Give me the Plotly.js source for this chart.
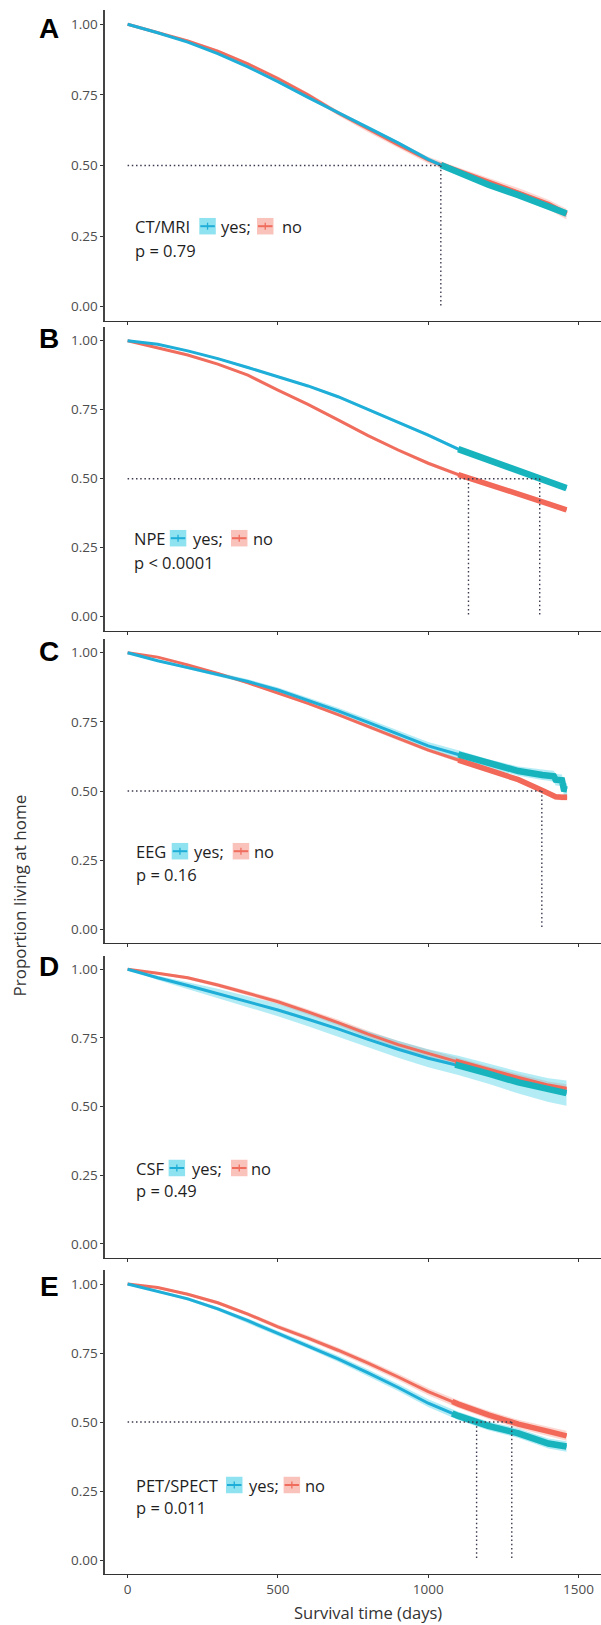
<!DOCTYPE html>
<html><head><meta charset="utf-8">
<script src="https://cdn.plot.ly/plotly-3.0.1.min.js"></script>
<style>html,body{margin:0;padding:0;background:#fff}#chart{width:601px;height:1625px}</style>
</head><body><div id="chart"></div>
<script>
// ---------------- data ----------------
const days  = [0,100,200,300,400,500,600,700,800,900,1000,1100,1200,1300,1400,1460];
const daysC = [0,100,200,300,400,500,600,700,800,900,1000,1100,1200,1300,1380,1400,1418,1424,1445,1451,1462];

const panelLetters = ['A','B','C','D','E'];
const testNames    = ['CT/MRI','NPE','EEG','CSF','PET/SPECT'];
const groupLabels  = ['yes;','no'];
const pValues      = ['p = 0.79','p < 0.0001','p = 0.16','p = 0.49','p = 0.011'];
const medianDays   = [[1042],[1134,1371],[1378],[],[1161,1278]];
const xTickVals    = [0,500,1000,1500];
const xTickText    = ['0','500','1000','1500'];
const yTickVals    = [0,0.25,0.5,0.75,1];
const yTickText    = ['0.00','0.25','0.50','0.75','1.00'];
const xTitle = 'Survival time (days)';
const yTitle = 'Proportion living at home';

// survival estimates
const aYes = [1,.970,.937,.896,.849,.797,.741,.687,.635,.580,.522,.474,.432,.395,.354,.330];
const aNo  = [1,.971,.941,.905,.860,.808,.750,.686,.628,.573,.519,.480,.442,.405,.362,.328];
const bYes = [1,.987,.963,.935,.903,.870,.836,.797,.750,.703,.658,.607,.568,.530,.490,.466];
const bNo  = [1,.975,.948,.915,.875,.821,.769,.713,.656,.604,.556,.515,.481,.445,.409,.387];
const cYes = [1,.971,.946,.922,.896,.865,.828,.790,.748,.706,.663,.632,.599,.572,.558,.556,.553,.541,.539,.508,.506];
const cNo  = [1,.984,.956,.925,.891,.855,.817,.776,.733,.690,.648,.612,.576,.541,.502,.492,.482,.479,.477,.477,.477];
const dYes = [1,.969,.941,.912,.882,.852,.818,.783,.745,.709,.676,.650,.620,.588,.560,.549];
const dNo  = [1,.986,.969,.943,.913,.882,.845,.806,.764,.726,.694,.662,.631,.602,.574,.563];
const eYes = [1,.974,.946,.910,.867,.821,.776,.729,.678,.625,.568,.522,.486,.459,.422,.411];
const eNo  = [1,.987,.963,.932,.891,.845,.804,.760,.713,.663,.610,.565,.526,.492,.466,.450];

// confidence band half-widths
const aYesCI = [0,.002,.003,.003,.004,.004,.005,.005,.006,.006,.007,.008,.009,.010,.011,.012];
const aNoCI  = [0,.003,.004,.005,.006,.007,.008,.009,.010,.011,.012,.013,.014,.015,.017,.019];
const bYesCI = [0,.002,.003,.003,.004,.004,.004,.005,.005,.005,.006,.006,.007,.007,.008,.009];
const bNoCI  = [0,.002,.003,.003,.004,.004,.005,.005,.005,.006,.006,.007,.007,.008,.008,.009];
const cYesCI = [0,.004,.006,.007,.008,.009,.010,.011,.012,.013,.014,.015,.016,.017,.018,.019,.020,.021,.021,.022,.022];
const cNoCI  = [0,.002,.003,.004,.004,.005,.005,.006,.006,.007,.007,.008,.008,.009,.009,.010,.010,.010,.011,.011,.011];
const dYesCI = [0,.008,.013,.017,.020,.023,.025,.027,.029,.031,.033,.035,.037,.040,.043,.046];
const dNoCI  = [0,.004,.006,.007,.008,.009,.010,.011,.012,.013,.014,.015,.016,.017,.018,.019];
const eYesCI = [0,.004,.006,.007,.008,.009,.010,.011,.012,.013,.014,.015,.016,.017,.018,.019];
const eNoCI  = [0,.004,.005,.006,.007,.008,.009,.010,.011,.012,.013,.014,.015,.016,.017,.018];

// heavy-censoring region start (days) per panel
const censorFrom = [1042,1100,1100,1090,1080];

// ---------------- layout config (pixels) ----------------
const W = 601, H = 1625;
const plotLeft = 104.6, x0px = 127.6, pxPerDay = 0.3006;
const panels = [
  {y1:24.3,  y0:306.7,  letterY:28,   row1:226.7,  row2:251.0,  xs:[135,199.3,220.7,257,281.7]},
  {y1:340.7, y0:616.7,  letterY:338.5,row1:538.7,  row2:562.0,  xs:[134,169.8,192.8,231,253]},
  {y1:652.7, y0:929.3,  letterY:651,  row1:851.7,  row2:874.0,  xs:[136,171.7,194,232.7,254]},
  {y1:969.3, y0:1244,   letterY:966,  row1:1168.5, row2:1190.5, xs:[136,168.6,191.6,231,251]},
  {y1:1284,  y0:1560,   letterY:1286, row1:1485.5, row2:1507.5, xs:[136,226,249,283.6,304.7]}
];
const seriesByPanel = [
  {t:days,  yes:aYes, no:aNo, yesCI:aYesCI, noCI:aNoCI},
  {t:days,  yes:bYes, no:bNo, yesCI:bYesCI, noCI:bNoCI},
  {t:daysC, yes:cYes, no:cNo, yesCI:cYesCI, noCI:cNoCI},
  {t:days,  yes:dYes, no:dNo, yesCI:dYesCI, noCI:dNoCI},
  {t:days,  yes:eYes, no:eNo, yesCI:eYesCI, noCI:eNoCI}
];
const COL = {
  yesLine:'#1eaed8', yesThick:'#18b4be', yesBand:'rgba(40,200,225,0.35)',
  noLine:'#f06d5e',  noThick:'#f2695a',  noBand:'rgba(245,125,110,0.30)',
  yesKeyFill:'#8fe2f0', noKeyFill:'#f9c2bb'
};
const TXT = 'Open Sans, Liberation Sans, sans-serif';

const xRange = [-(x0px-plotLeft)/pxPerDay, -(x0px-plotLeft)/pxPerDay + (W-plotLeft)/pxPerDay];
const px2x = p => p/W, px2y = p => 1 - p/H;

function tailOf(t, s, from){
  const xs=[], ys=[];
  for (let k=0;k<t.length;k++){
    if (t[k] >= from){
      if (xs.length===0 && k>0 && t[k]>from){
        const f=(from-t[k-1])/(t[k]-t[k-1]);
        xs.push(from); ys.push(s[k-1]+f*(s[k]-s[k-1]));
      }
      xs.push(t[k]); ys.push(s[k]);
    }
  }
  return {xs, ys};
}

const traces = [], shapes = [], annotations = [];
const layout = {
  width:W, height:H, margin:{l:0,r:0,t:0,b:0},
  paper_bgcolor:'#fff', plot_bgcolor:'#fff', showlegend:false
};

panels.forEach((p, i) => {
  const sfx = i===0 ? '' : String(i+1);
  const xa = 'x'+sfx, ya = 'y'+sfx;
  const span = p.y0 - p.y1;
  const topPx = p.y0 - 1.05*span, botPx = p.y0 + 0.05*span;
  layout['xaxis'+sfx] = {
    domain:[plotLeft/W, 1], range:xRange, anchor:ya,
    showline:true, linecolor:'#333', linewidth:1.2, mirror:false,
    ticks:'outside', ticklen:3, tickwidth:1, tickcolor:'#333',
    tickvals:xTickVals, ticktext:xTickText, showticklabels:(i===4),
    tickfont:{family:TXT, size:13.5, color:'#4d4d4d'},
    showgrid:false, zeroline:false, fixedrange:true
  };
  layout['yaxis'+sfx] = {
    domain:[1-botPx/H, 1-topPx/H], range:[-0.05,1.05], anchor:xa,
    showline:true, linecolor:'#444', linewidth:1.2,
    ticks:'outside', ticklen:3, tickwidth:1, tickcolor:'#333',
    tickvals:yTickVals, ticktext:yTickText,
    tickfont:{family:TXT, size:13.5, color:'#4d4d4d'},
    showgrid:false, zeroline:false, fixedrange:true
  };

  const S = seriesByPanel[i];
  const groups = [
    {v:S.no,  ci:S.noCI,  band:COL.noBand,  line:COL.noLine,  thick:COL.noThick,  tw:5.5},
    {v:S.yes, ci:S.yesCI, band:COL.yesBand, line:COL.yesLine, thick:COL.yesThick, tw:6.5}
  ];
  // ribbons
  groups.forEach(g => {
    const hi = g.v.map((v,k)=>v+g.ci[k]);
    const lo = g.v.map((v,k)=>v-g.ci[k]);
    traces.push({
      type:'scatter', mode:'lines', xaxis:xa, yaxis:ya,
      x:S.t.concat(S.t.slice().reverse()),
      y:hi.concat(lo.slice().reverse()),
      fill:'toself', fillcolor:g.band, line:{width:0}, hoverinfo:'skip'
    });
  });
  // lines
  groups.forEach(g => {
    traces.push({type:'scatter', mode:'lines', xaxis:xa, yaxis:ya,
      x:S.t, y:g.v, line:{color:g.line, width:3}, hoverinfo:'skip'});
  });
  // heavy-censoring thick tails
  groups.forEach(g => {
    const tl = tailOf(S.t, g.v, censorFrom[i]);
    traces.push({type:'scatter', mode:'lines', xaxis:xa, yaxis:ya,
      x:tl.xs, y:tl.ys, line:{color:g.thick, width:g.tw}, hoverinfo:'skip'});
  });

  // median lines
  const med = medianDays[i];
  if (med.length){
    const dotLine = {color:'#3b3b4f', width:1.4, dash:'1.5px,2.7px'};
    shapes.push({type:'line', xref:xa, yref:ya, x0:0, x1:Math.max(...med), y0:0.5, y1:0.5, line:dotLine, layer:'above'});
    med.forEach(m => shapes.push({type:'line', xref:xa, yref:ya, x0:m, x1:m, y0:0.5, y1:0, line:dotLine, layer:'above'}));
  }

  // panel letter
  annotations.push({xref:'paper', yref:'paper', x:px2x(49), y:px2y(p.letterY),
    xanchor:'center', yanchor:'middle', showarrow:false, borderpad:0,
    text:'<b>'+panelLetters[i]+'</b>', font:{family:'Liberation Sans, Arial, sans-serif', size:28, color:'#000'}});

  // legend texts
  const lf = {family:TXT, size:16.5, color:'#1e1e1e'};
  const [xLab, xK1, xYes, xK2, xNo] = p.xs;
  const txt = (x, y, t) => annotations.push({xref:'paper', yref:'paper', x:px2x(x), y:px2y(y),
    xanchor:'left', yanchor:'middle', showarrow:false, borderpad:0, text:t, font:lf});
  txt(xLab-1, p.row1, testNames[i]);
  txt(xYes-1, p.row1, groupLabels[0]);
  txt(xNo-1,  p.row1, groupLabels[1]);
  txt(xLab-1, p.row2, pValues[i]);

  // legend keys
  const K = 16.5;
  [[xK1, COL.yesKeyFill, COL.yesLine],[xK2, COL.noKeyFill, COL.noLine]].forEach(([kx, fill, lc]) => {
    const ky0 = p.row1 - K/2 - 0.5, ky1 = p.row1 + K/2 - 0.5, kyc = (ky0+ky1)/2;
    shapes.push({type:'rect', xref:'paper', yref:'paper', x0:px2x(kx), x1:px2x(kx+K), y0:px2y(ky1), y1:px2y(ky0), fillcolor:fill, line:{width:0}});
    shapes.push({type:'line', xref:'paper', yref:'paper', x0:px2x(kx+1), x1:px2x(kx+K-1), y0:px2y(kyc), y1:px2y(kyc), line:{color:lc, width:2}});
    shapes.push({type:'line', xref:'paper', yref:'paper', x0:px2x(kx+K/2), x1:px2x(kx+K/2), y0:px2y(kyc-3.5), y1:px2y(kyc+3.5), line:{color:lc, width:1.3}});
  });
});

// axis titles
annotations.push({xref:'paper', yref:'paper', x:px2x(368), y:px2y(1612.5), xanchor:'center', yanchor:'middle', showarrow:false, borderpad:0,
  text:xTitle, font:{family:TXT, size:16.5, color:'#333'}});
annotations.push({xref:'paper', yref:'paper', x:px2x(18.5), y:px2y(896), xanchor:'center', yanchor:'middle', showarrow:false, borderpad:0,
  text:yTitle, textangle:-90, font:{family:TXT, size:17, color:'#333'}});

layout.shapes = shapes;
layout.annotations = annotations;

Plotly.newPlot('chart', traces, layout, {staticPlot:true, displayModeBar:false});
</script>
</body></html>
